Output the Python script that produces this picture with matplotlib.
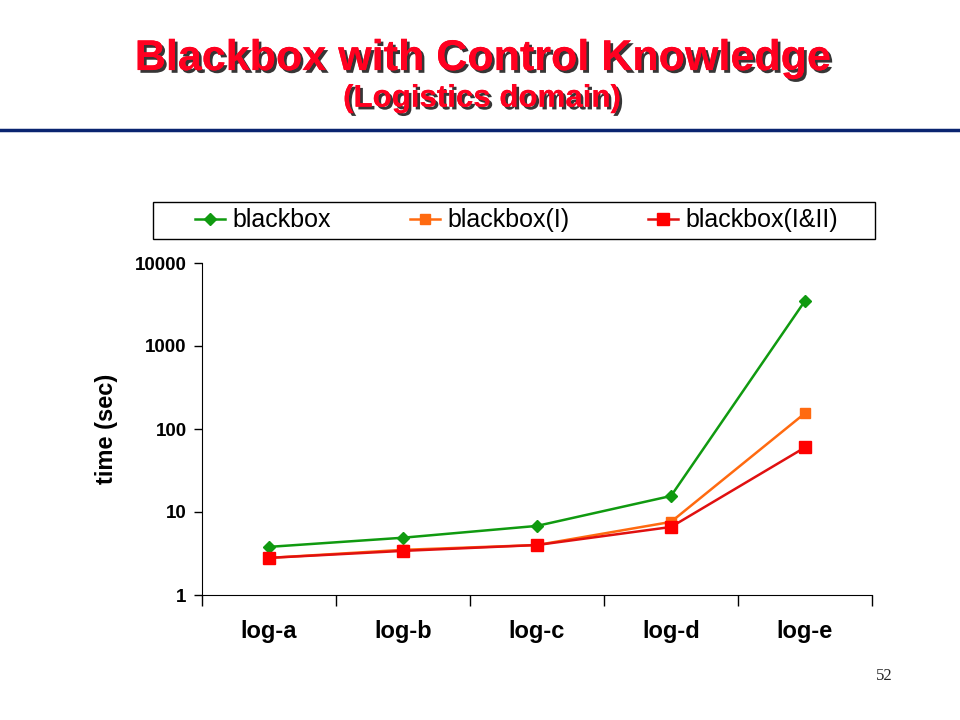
import matplotlib.pyplot as plt
import matplotlib.patheffects as pe
import numpy as np
from matplotlib.lines import Line2D
from matplotlib.patches import Rectangle


categories = ["log-a", "log-b", "log-c", "log-d", "log-e"]
blackbox = [3.8, 4.9, 6.8, 15.6, 3500]
blackbox_i = [2.8, 3.5, 4.0, 7.6, 155]
blackbox_i_ii = [2.8, 3.4, 4.0, 6.6, 60]
y_ticks = [1, 10, 100, 1000, 10000]
y_tick_labels = ["1", "10", "100", "1000", "10000"]

FONT = "Liberation Sans"


def main() -> None:
    plt.rcParams["font.family"] = [FONT, "DejaVu Sans"]
    fig = plt.figure(figsize=(9.6, 7.2), dpi=100)

    shadow = [pe.withSimplePatchShadow(offset=(2, -2), shadow_rgbFace="#202020", alpha=0.9), pe.Normal()]
    fig.text(0.502, 0.918, "Blackbox with Control Knowledge", ha="center", va="center",
             fontsize=31, fontweight="bold", color="#ff0020", path_effects=shadow)
    fig.text(0.502, 0.863, "(Logistics domain)", ha="center", va="center",
             fontsize=22.5, fontweight="bold", color="#ff0020", path_effects=shadow)
    fig.add_artist(Line2D([0, 1], [1 - 130 / 720, 1 - 130 / 720], color="#0a2470", linewidth=2.5))
    fig.text(0.921, 0.061, "52", ha="center", va="center", fontsize=12,
             family="Liberation Serif", color="#222222")

    ax = fig.add_axes([202 / 960, 1 - 595 / 720, 670 / 960, 332 / 720])
    x = np.arange(len(categories))
    ax.plot(x, blackbox, color="#109a10", marker="D", markersize=6, linewidth=1.8, label="blackbox")
    ax.plot(x, blackbox_i, color="#ff6a10", marker="s", markersize=7, linewidth=1.8, label="blackbox(I)")
    ax.plot(x, blackbox_i_ii, color="#e01010", marker="s", markersize=9, markerfacecolor="#ff0000",
            markeredgecolor="#ff0000", linewidth=1.8, label="blackbox(I&II)")

    ax.set_yscale("log")
    ax.set_ylim(1, 10000)
    ax.set_yticks(y_ticks)
    ax.set_yticklabels(y_tick_labels, fontsize=13.5, fontweight="bold")
    ax.yaxis.set_minor_locator(plt.NullLocator())
    ax.set_xlim(-0.5, len(categories) - 0.5)
    ax.set_xticks(x)
    ax.set_xticklabels(categories, fontsize=17, fontweight="bold")
    ax.set_xticks(np.arange(len(categories) + 1) - 0.5, minor=True)
    ax.tick_params(axis="x", which="major", length=0, pad=18)
    ax.tick_params(axis="x", which="minor", length=8, width=1, direction="out")
    ax.tick_params(axis="y", which="major", length=6, width=1, direction="out", pad=5)
    ax.set_ylabel("time (sec)", fontsize=17, fontweight="bold", labelpad=12)
    for side in ("top", "right"):
        ax.spines[side].set_visible(False)

    # legend frame drawn separately so the entries can sit inset from it
    fig.add_artist(Rectangle((153 / 960, 1 - 239 / 720), 722 / 960, 37 / 720, transform=fig.transFigure,
                             fill=False, edgecolor="black", linewidth=1.0))
    fig.legend(loc="center", bbox_to_anchor=(185 / 960, 1 - 239 / 720, 663 / 960, 37 / 720),
               ncol=3, mode="expand", fontsize=18, frameon=False,
               handlelength=1.2, handletextpad=0.3, borderaxespad=0)

    fig.savefig("out.png", dpi=100)
    plt.close(fig)


if __name__ == "__main__":
    main()
